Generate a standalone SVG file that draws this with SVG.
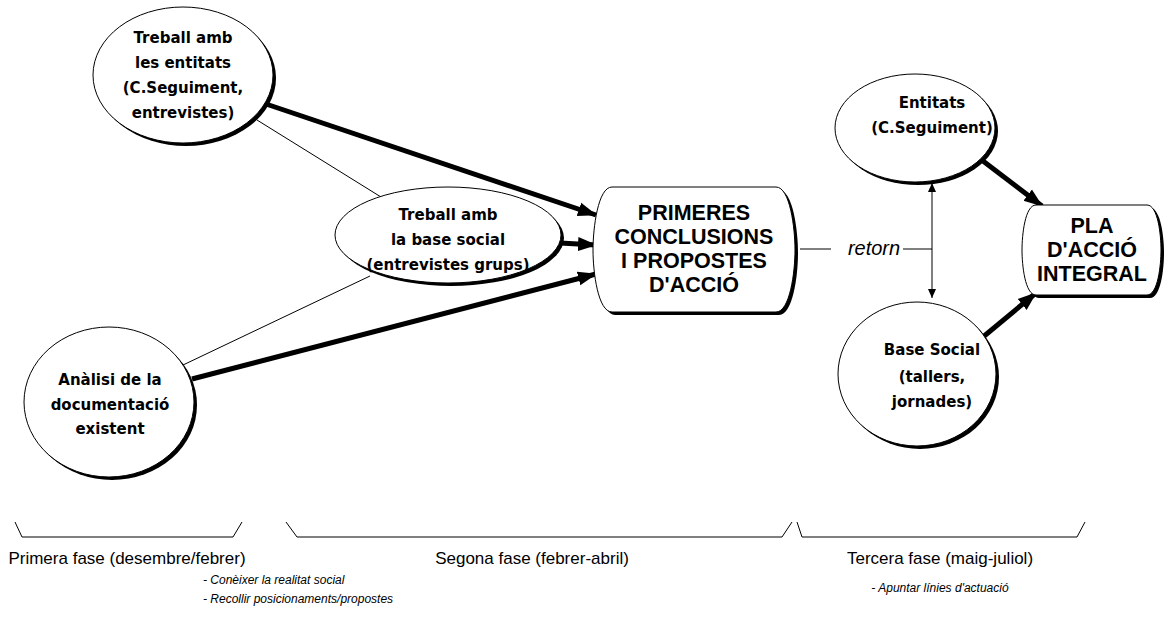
<svg xmlns="http://www.w3.org/2000/svg" width="1170" height="617" viewBox="0 0 1170 617">
<style>
.node{font-family:"DejaVu Sans",sans-serif;font-weight:bold;font-size:15px;fill:#000;text-anchor:middle}
.box{font-family:"Liberation Sans",Arial,sans-serif;font-weight:bold;font-size:21.5px;fill:#000;text-anchor:middle}
.shape{fill:#fff;stroke:#000;stroke-width:1}
.shadow{fill:#000}
.thick{stroke:#000;stroke-width:5;fill:none;marker-end:url(#big)}
.thin{stroke:#000;stroke-width:1;fill:none}
.phase{font-family:"Liberation Sans",Arial,sans-serif;font-size:17px;fill:#000;text-anchor:middle}
.note{font-family:"Liberation Sans",Arial,sans-serif;font-style:italic;font-size:12px;fill:#000}
</style>
<defs>
<marker id="big" markerUnits="userSpaceOnUse" markerWidth="20" markerHeight="16" refX="18" refY="8" orient="auto">
<path d="M0,1 L19,8 L0,15 Z" fill="#000"/>
</marker>
<marker id="small" markerUnits="userSpaceOnUse" markerWidth="10" markerHeight="8" refX="9" refY="4" orient="auto">
<path d="M0,0 L9,4 L0,8 Z" fill="#000"/>
</marker>
<marker id="smallStart" markerUnits="userSpaceOnUse" markerWidth="10" markerHeight="8" refX="1" refY="4" orient="auto">
<path d="M10,0 L1,4 L10,8 Z" fill="#000"/>
</marker>
</defs>
<g id="connectors">
<line class="thin" x1="257" y1="120" x2="381" y2="197"/>
<line class="thin" x1="183" y1="365" x2="370" y2="276"/>
<line class="thick" x1="266" y1="104" x2="596" y2="215"/>
<line class="thick" x1="560" y1="243" x2="596" y2="245"/>
<line class="thick" x1="192" y1="379" x2="596" y2="274"/>
<line class="thick" x1="983" y1="161" x2="1042" y2="206"/>
<line class="thick" x1="983" y1="337" x2="1036" y2="293"/>
<line class="thin" x1="932" y1="183" x2="932" y2="298" marker-start="url(#smallStart)" marker-end="url(#small)"/>
<line class="thin" x1="800" y1="249" x2="831" y2="249"/>
<line class="thin" x1="903" y1="249" x2="932" y2="249"/>
<text x="874" y="255" font-family="Liberation Sans, Arial, sans-serif" font-style="italic" font-size="20" text-anchor="middle">retorn</text>
</g>
<g id="n-entitats1">
<ellipse class="shadow" cx="186" cy="78" rx="90" ry="68"/>
<ellipse class="shape" cx="183" cy="75" rx="90" ry="68"/>
<text class="node" x="183" y="43">Treball amb</text>
<text class="node" x="183" y="68">les entitats</text>
<text class="node" x="183" y="93">(C.Seguiment,</text>
<text class="node" x="183" y="118">entrevistes)</text>
</g>
<g id="n-basesocial1">
<ellipse class="shadow" cx="451" cy="238" rx="113" ry="48"/>
<ellipse class="shape" cx="448" cy="235" rx="113" ry="48"/>
<text class="node" x="448" y="220">Treball amb</text>
<text class="node" x="448" y="245">la base social</text>
<text class="node" x="448" y="270">(entrevistes grups)</text>
</g>
<g id="n-analisi">
<ellipse class="shadow" cx="112" cy="405" rx="85" ry="75"/>
<ellipse class="shape" cx="109" cy="402" rx="85" ry="75"/>
<text class="node" x="110" y="385">Anàlisi de la</text>
<text class="node" x="110" y="410">documentació</text>
<text class="node" x="110" y="434">existent</text>
</g>
<g id="n-primeres">
<path class="shadow" transform="translate(3,3)" d="M612 187 H776 C790 187 795 228 795 250 C795 272 790 312 776 312 H612 C598 312 593 272 593 250 C593 228 598 187 612 187 Z"/>
<path class="shape" d="M612 187 H776 C790 187 795 228 795 250 C795 272 790 312 776 312 H612 C598 312 593 272 593 250 C593 228 598 187 612 187 Z"/>
<text class="box" x="694" y="220">PRIMERES</text>
<text class="box" x="694" y="244">CONCLUSIONS</text>
<text class="box" x="694" y="268">I PROPOSTES</text>
<text class="box" x="694" y="292">D'ACCIÓ</text>
</g>
<g id="n-entitats2">
<ellipse class="shadow" cx="918" cy="131" rx="80" ry="54"/>
<ellipse class="shape" cx="915" cy="128" rx="80" ry="54"/>
<text class="node" x="932" y="108">Entitats</text>
<text class="node" x="932" y="133">(C.Seguiment)</text>
</g>
<g id="n-basesocial2">
<ellipse class="shadow" cx="920" cy="377" rx="79" ry="72"/>
<ellipse class="shape" cx="917" cy="374" rx="79" ry="72"/>
<text class="node" x="932" y="355">Base Social</text>
<text class="node" x="932" y="382">(tallers,</text>
<text class="node" x="932" y="407">jornades)</text>
</g>
<g id="n-pla">
<path class="shadow" transform="translate(3,3)" d="M1036 205 H1147 C1158 205 1161 235 1161 250 C1161 265 1158 295 1147 295 H1036 C1025 295 1022 265 1022 250 C1022 235 1025 205 1036 205 Z"/>
<path class="shape" d="M1036 205 H1147 C1158 205 1161 235 1161 250 C1161 265 1158 295 1147 295 H1036 C1025 295 1022 265 1022 250 C1022 235 1025 205 1036 205 Z"/>
<text class="box" x="1092" y="233">PLA</text>
<text class="box" x="1092" y="257">D'ACCIÓ</text>
<text class="box" x="1092" y="281">INTEGRAL</text>
</g>
<g id="phases">
<polyline class="thin" points="15,522 22,537 233,537 242,522"/>
<polyline class="thin" points="286,522 297,537 782,537 792,522"/>
<polyline class="thin" points="797,522 802,537 1077,537 1085,522"/>
<text class="phase" x="127" y="564">Primera fase (desembre/febrer)</text>
<text class="phase" x="532" y="564">Segona fase (febrer-abril)</text>
<text class="phase" x="940" y="564">Tercera fase (maig-juliol)</text>
<text class="note" x="203" y="584">- Conèixer la realitat social</text>
<text class="note" x="203" y="603">- Recollir posicionaments/propostes</text>
<text class="note" x="940" y="592" text-anchor="middle">- Apuntar línies d'actuació</text>
</g>
</svg>
